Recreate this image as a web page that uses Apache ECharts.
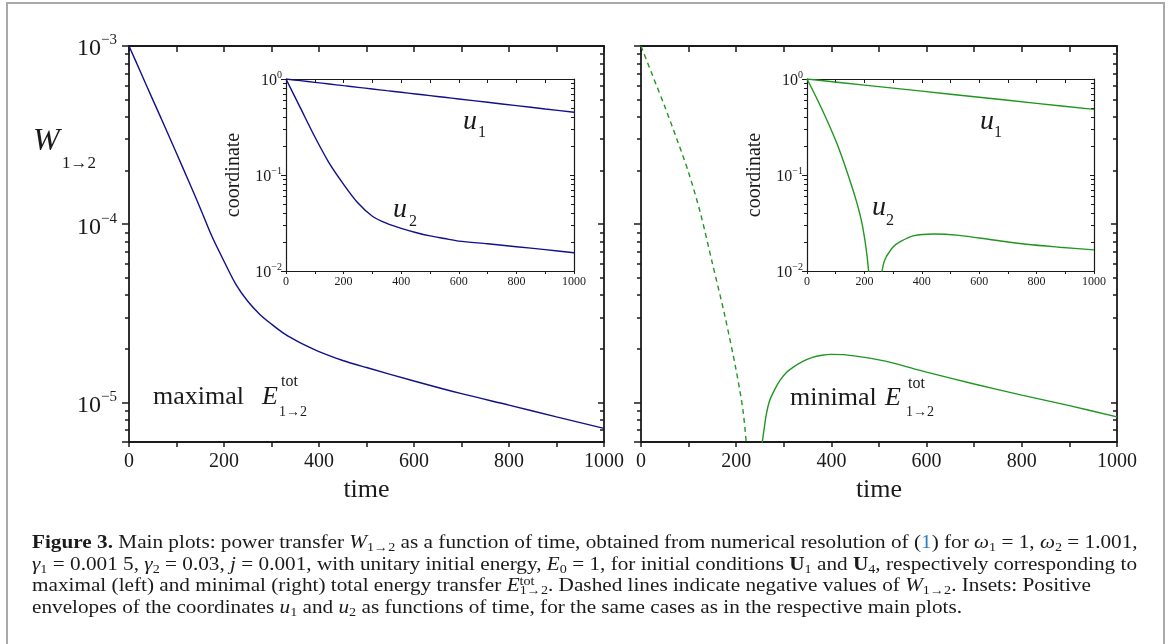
<!DOCTYPE html>
<html>
<head>
<meta charset="utf-8">
<title>Figure 3</title>
<script src="https://cdn.jsdelivr.net/npm/echarts@6.0.0/dist/echarts.min.js"></script>
<style>
html, body { margin: 0; padding: 0; background: #fff; }
#chart { width: 1170px; height: 644px; }
</style>
</head>
<body>
<div id="chart"></div>
<script>
var SERIF = '"Liberation Serif", "DejaVu Serif", serif';
var BLUE = '#10108a';
var GREEN = '#1f961f';
var INK = '#1a1a1a';

// ranges and tick labels
var timeLabels = [0, 200, 400, 600, 800, 1000];
var mainRange = [6e-6, 1e-3];
var insetRange = [1e-2, 1];
var logMinor = [2, 3, 4, 5, 6, 7, 8, 9];

// left main plot: W(1->2), maximal transfer
var tMax = [0, 25, 50, 75, 100, 125, 150, 175, 200, 225, 250, 275, 300, 325, 350, 375, 400, 450, 500, 600, 700, 800, 900, 1000];
var wMax = [1.0e-3, 7.08e-4, 5.0e-4, 3.55e-4, 2.5e-4, 1.76e-4, 1.23e-4, 8.5e-5, 6.2e-5, 4.6e-5, 3.7e-5, 3.13e-5, 2.75e-5, 2.45e-5, 2.24e-5, 2.07e-5, 1.93e-5, 1.72e-5, 1.57e-5, 1.32e-5, 1.12e-5, 9.66e-6, 8.3e-6, 7.15e-6];

// right main plot: minimal transfer, negative part (dashed, |W|) and positive part
var tMinNeg = [0, 25, 50, 75, 100, 125, 150, 175, 200, 215, 225];
var wMinNeg = [1.0e-3, 6.76e-4, 4.57e-4, 3.02e-4, 1.95e-4, 1.15e-4, 6.03e-5, 3.16e-5, 1.51e-5, 8.7e-6, 4.47e-6];
var tMinPos = [254, 258, 263, 270, 280, 292, 305, 320, 340, 360, 380, 400, 430, 470, 520, 600, 700, 800, 900, 1000];
var wMinPos = [5.8e-6, 6.9e-6, 8.5e-6, 1.02e-5, 1.17e-5, 1.33e-5, 1.47e-5, 1.58e-5, 1.70e-5, 1.79e-5, 1.84e-5, 1.86e-5, 1.85e-5, 1.79e-5, 1.69e-5, 1.48e-5, 1.27e-5, 1.1e-5, 9.6e-6, 8.3e-6];

// left inset: envelopes u1, u2
var tInsL = [0, 50, 100, 150, 200, 250, 300, 350, 400, 450, 500, 550, 600, 700, 800, 900, 1000];
var u1L = [1, 0.961, 0.923, 0.887, 0.852, 0.819, 0.787, 0.756, 0.727, 0.698, 0.671, 0.645, 0.619, 0.572, 0.528, 0.487, 0.45];
var u2L = [1, 0.5, 0.25, 0.133, 0.08, 0.051, 0.0372, 0.0313, 0.0278, 0.0252, 0.0232, 0.0218, 0.0205, 0.0192, 0.0179, 0.0167, 0.0155];

// right inset
var tU1R = [0, 200, 400, 600, 800, 1000];
var u1R = [1, 0.864, 0.747, 0.646, 0.558, 0.483];
var tU2Ra = [0, 35, 70, 105, 140, 170, 190, 205, 214, 222];
var u2Ra = [1, 0.62, 0.37, 0.21, 0.107, 0.056, 0.033, 0.018, 0.0105, 0.005];
var tU2Rb = [258, 262, 268, 276, 284, 300, 325, 370, 440, 530, 650, 765, 880, 1000];
var u2Rb = [0.0085, 0.0102, 0.0123, 0.014, 0.0153, 0.0178, 0.0202, 0.0232, 0.0243, 0.0235, 0.021, 0.019, 0.0177, 0.0166];

function pairs(t, v) {
    return t.map(function (x, i) { return [x, v[i]]; });
}

function minorLogs(range) {
    var out = [];
    var lo = Math.floor(Math.log10(range[0]));
    var hi = Math.ceil(Math.log10(range[1]));
    for (var d = lo; d < hi; d++) {
        logMinor.forEach(function (k) { out.push(Math.log10(k) + d); });
    }
    return out;
}

function powLabel(v) {
    var e = Math.log10(v);
    var n = Math.round(e);
    if (Math.abs(e - n) > 1e-6) return '';
    return '{b|10}{s|' + (n < 0 ? '\u2212' + (-n) : n) + '}';
}

function timeLabel(v) {
    return timeLabels.indexOf(v) >= 0 ? String(v) : '';
}

var xAxes = [];
var yAxes = [];

// each panel: bottom + top time axis, left + right log axis, and two value axes
// (in log10 units) that only carry the 2..9 minor ticks
function addPanel(g, o) {
    function line() { return {onZero: false, lineStyle: {color: INK, width: o.lw}}; }
    function ts() { return {color: INK, width: o.tw}; }
    xAxes.push({
        gridIndex: g, type: 'value', position: 'bottom', min: 0, max: 1000, interval: 100,
        axisLine: line(),
        axisTick: {inside: false, length: o.tick, lineStyle: ts()},
        axisLabel: {formatter: timeLabel, fontFamily: SERIF, fontSize: o.xFont, color: INK, margin: o.xMargin},
        splitLine: {show: false},
        name: o.xName || '', nameLocation: 'middle', nameGap: 30,
        nameTextStyle: {fontFamily: SERIF, fontSize: 26, color: INK}
    });
    xAxes.push({
        gridIndex: g, type: 'value', position: 'top', min: 0, max: 1000, interval: 100,
        axisLine: line(),
        axisTick: {inside: true, length: o.tick + 1, lineStyle: ts()},
        axisLabel: {show: false},
        splitLine: {show: false}
    });
    yAxes.push({
        gridIndex: g, type: 'log', logBase: 10, position: 'left', min: o.range[0], max: o.range[1],
        axisLine: line(),
        axisTick: {inside: false, length: o.tick + 2, lineStyle: ts()},
        axisLabel: {
            show: o.yLabels, formatter: powLabel, margin: o.yMargin, color: INK,
            rich: {
                b: {fontFamily: SERIF, fontSize: o.yFont, lineHeight: o.yFont + 2, padding: [Math.round(o.yFont * 0.25), 0, 0, 0], color: INK},
                s: {fontFamily: SERIF, fontSize: Math.round(o.yFont * 0.62), lineHeight: Math.round(o.yFont * 0.5), verticalAlign: 'top', color: INK}
            }
        },
        splitLine: {show: false},
        name: o.yName || '', nameLocation: 'middle', nameGap: 42,
        nameTextStyle: {fontFamily: SERIF, fontSize: 20, color: INK}
    });
    yAxes.push({
        gridIndex: g, type: 'log', logBase: 10, position: 'right', min: o.range[0], max: o.range[1],
        axisLine: line(),
        axisTick: {inside: true, length: o.tick + 1, lineStyle: ts()},
        axisLabel: {show: false},
        splitLine: {show: false}
    });
    var lo = Math.log10(o.range[0]), hi = Math.log10(o.range[1]);
    yAxes.push({
        gridIndex: g, type: 'value', position: 'left', min: lo, max: hi,
        axisLine: {show: false, onZero: false},
        axisTick: {inside: false, length: o.minor, customValues: minorLogs(o.range), lineStyle: ts()},
        axisLabel: {show: false},
        splitLine: {show: false}
    });
    yAxes.push({
        gridIndex: g, type: 'value', position: 'right', min: lo, max: hi,
        axisLine: {show: false, onZero: false},
        axisTick: {inside: true, length: o.minor, customValues: minorLogs(o.range), lineStyle: ts()},
        axisLabel: {show: false},
        splitLine: {show: false}
    });
}

addPanel(0, {range: mainRange, lw: 1.8, tw: 1.5, tick: 5, minor: 4, xFont: 20, xMargin: 10, yFont: 24, yMargin: 12, yLabels: true, xName: 'time'});
addPanel(1, {range: mainRange, lw: 1.8, tw: 1.5, tick: 5, minor: 4, xFont: 20, xMargin: 10, yFont: 24, yMargin: 12, yLabels: false, xName: 'time'});
addPanel(2, {range: insetRange, lw: 1.2, tw: 1, tick: 3, minor: 3, xFont: 12, xMargin: 5, yFont: 16, yMargin: 4, yLabels: true, yName: 'coordinate'});
addPanel(3, {range: insetRange, lw: 1.2, tw: 1, tick: 3, minor: 3, xFont: 12, xMargin: 5, yFont: 16, yMargin: 4, yLabels: true, yName: 'coordinate'});

// 2 x axes and 4 y axes per panel; the data goes on the bottom / left log pair
function curve(g, t, v, color, dashed) {
    return {
        type: 'line', xAxisIndex: g * 2, yAxisIndex: g * 4,
        data: pairs(t, v), showSymbol: false, smooth: 0.3, silent: true,
        lineStyle: {color: color, width: 1.4, type: dashed ? [5, 4] : 'solid'},
        itemStyle: {color: color}
    };
}

function txt(x, y, text, font) {
    return {type: 'text', silent: true, style: {text: text, x: x, y: y, font: font + ' ' + SERIF, fill: INK, align: 'left', verticalAlign: 'middle'}};
}

// caption
var CAP = 18;
var SUB = 12;
function capStyle(o) {
    var s = {fontFamily: SERIF, fontSize: CAP, lineHeight: 21, fill: INK};
    Object.keys(o || {}).forEach(function (k) { s[k] = o[k]; });
    return s;
}
var capRich = {
    b: capStyle({fontWeight: 'bold'}),
    i: capStyle({fontStyle: 'italic'}),
    ub: capStyle({fontWeight: 'bold'}),
    lk: capStyle({fill: '#2f7fbf'}),
    sub: capStyle({fontSize: SUB, lineHeight: 12, verticalAlign: 'bottom'}),
    sup: capStyle({fontSize: SUB, lineHeight: 12, verticalAlign: 'top', width: 0.1})
};
var capLines = [
    '{b|Figure 3.} Main plots: power transfer {i|W}{sub|1\u21922} as a function of time, obtained from numerical resolution of ({lk|1}) for {i|\u03c9}{sub|1} = 1, {i|\u03c9}{sub|2} = 1.001,',
    '{i|\u03b3}{sub|1} = 0.001 5, {i|\u03b3}{sub|2} = 0.03, {i|j} = 0.001, with unitary initial energy, {i|E}{sub|0} = 1, for initial conditions {ub|U}{sub|1} and {ub|U}{sub|4}, respectively corresponding to',
    'maximal (left) and minimal (right) total energy transfer {i|E}{sup|tot}{sub|1\u21922}. Dashed lines indicate negative values of {i|W}{sub|1\u21922}. Insets: Positive',
    'envelopes of the coordinates {i|u}{sub|1} and {i|u}{sub|2} as functions of time, for the same cases as in the respective main plots.'
];
var capY = [543, 565, 586, 608];

// the second caption line runs the full text width (32..1137)
var capFonts = {b: 'bold ' + CAP, i: 'italic ' + CAP, ub: 'bold ' + CAP, lk: '' + CAP, sub: '' + SUB};
function capWidth(line) {
    var ctx = document.createElement('canvas').getContext('2d');
    var w = 0, re = /\{(\w+)\|([^}]*)\}|[^{]+/g, m;
    while ((m = re.exec(line))) {
        if (m[1] === 'sup') continue;
        ctx.font = (m[1] ? capFonts[m[1]] : CAP) + 'px ' + SERIF;
        w += ctx.measureText(m[1] ? m[2] : m[0]).width;
    }
    return w;
}
var capScale = 1105 / capWidth(capLines[1]);
if (!(capScale > 0.85 && capScale < 1.25)) capScale = 1;

var graphics = [
    {type: 'rect', silent: true, shape: {x: 7, y: 3, width: 1157, height: 700}, style: {fill: 'none', stroke: '#a9a9a9', lineWidth: 2}},
    txt(33, 142, 'W', 'italic 32px'),
    txt(62, 164, '1\u21922', '17px'),
    txt(153, 397, 'maximal', '26px'),
    txt(262, 397, 'E', 'italic 26px'),
    txt(281, 382, 'tot', '16px'),
    txt(279, 412, '1\u21922', '14px'),
    txt(790, 398, 'minimal', '26px'),
    txt(885, 398, 'E', 'italic 26px'),
    txt(908, 384, 'tot', '16px'),
    txt(906, 412, '1\u21922', '14px'),
    txt(463, 122, 'u', 'italic 28px'),
    txt(478, 133, '1', '16px'),
    txt(393, 210, 'u', 'italic 28px'),
    txt(409, 222, '2', '16px'),
    txt(980, 122, 'u', 'italic 28px'),
    txt(994, 133, '1', '16px'),
    txt(872, 208, 'u', 'italic 28px'),
    txt(886, 221, '2', '16px')
];
capLines.forEach(function (line, i) {
    graphics.push({
        type: 'text', silent: true, x: 32, y: capY[i], scaleX: capScale,
        style: {text: line, x: 0, y: 0, font: CAP + 'px ' + SERIF, lineHeight: 21, fill: INK, align: 'left', verticalAlign: 'middle', rich: capRich}
    });
});

var myChart = echarts.init(document.getElementById('chart'));
var option = {
    animation: false,
    backgroundColor: '#fff',
    grid: [
        {left: 129, top: 46, width: 475, height: 396},
        {left: 641, top: 46, width: 476, height: 396},
        {left: 286, top: 79, width: 288, height: 192},
        {left: 807, top: 79, width: 287, height: 192}
    ],
    xAxis: xAxes,
    yAxis: yAxes,
    series: [
        curve(0, tMax, wMax, BLUE),
        curve(1, tMinNeg, wMinNeg, GREEN, true),
        curve(1, tMinPos, wMinPos, GREEN),
        curve(2, tInsL, u1L, BLUE),
        curve(2, tInsL, u2L, BLUE),
        curve(3, tU1R, u1R, GREEN),
        curve(3, tU2Ra, u2Ra, GREEN),
        curve(3, tU2Rb, u2Rb, GREEN)
    ]
};
myChart.setOption(option);
try {
    myChart.setOption({graphic: graphics});
} catch (e) {
    console.log(e);
}
</script>
</body>
</html>
